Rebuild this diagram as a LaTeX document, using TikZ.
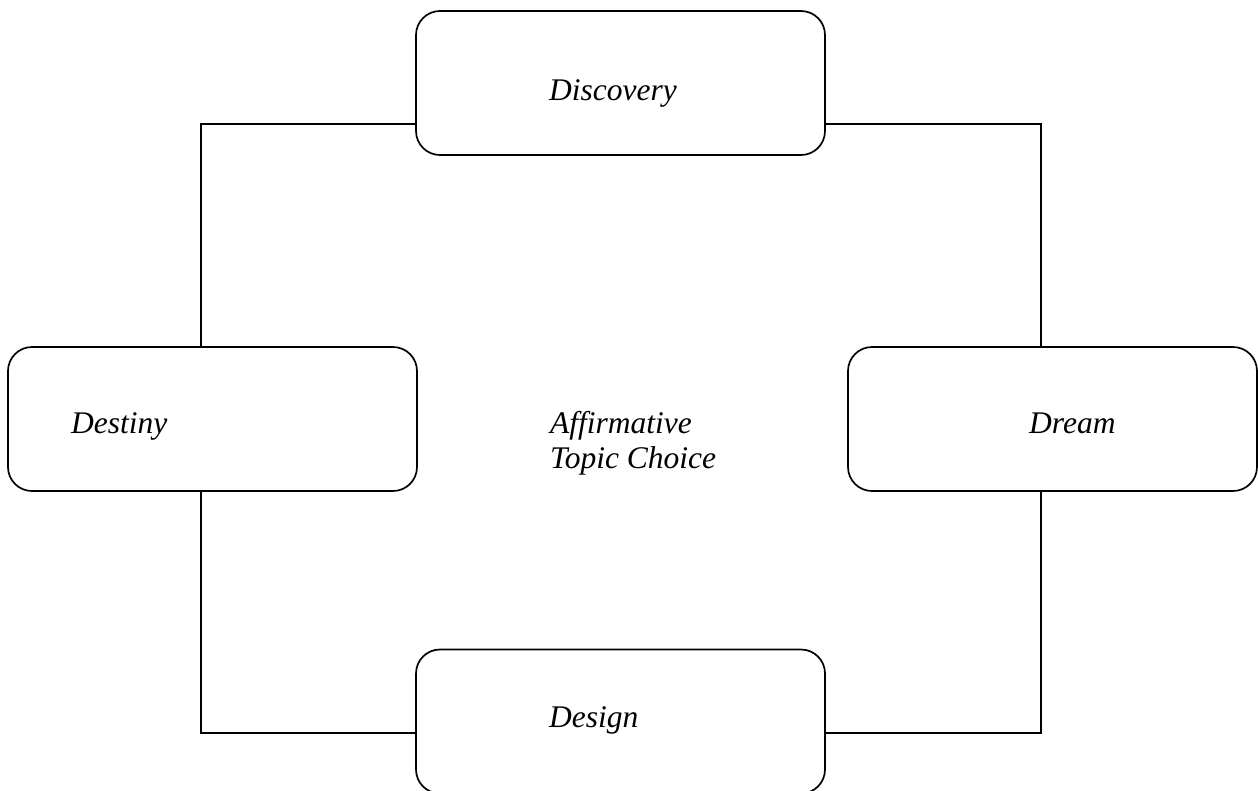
\documentclass[tikz,border=0pt]{standalone}
\usepackage{fontspec}
\setmainfont{Liberation Serif}
\begin{document}
\begin{tikzpicture}[x=1pt,y=-1pt,
  phasebox/.style={draw=black,line width=1.7pt,rectangle,rounded corners=24pt,minimum width=409pt,minimum height=144pt,inner sep=0pt},
  label/.style={inner sep=0pt,anchor=base west,font=\fontsize{31.5pt}{35pt}\selectfont\itshape},
  link/.style={draw=black,line width=1.7pt}]
\useasboundingbox (0,0) rectangle (1258,790);
\node[phasebox] (disc) at (620.5,83) {};
\node[phasebox] (dest) at (212.5,419) {};
\node[phasebox] (dream) at (1052.5,419) {};
\node[phasebox] (design) at (620.5,721.5) {};
\node[label] (tdisc) at (549,100) {Discovery};
\node[label] (tdest) at (71,433) {Destiny};
\node[label] (tdream) at (1029,433) {Dream};
\node[label] (tdesign) at (549,727) {Design};
\node[label] (taff1) at (550,433) {Affirmative};
\node[label] (taff2) at (550,468) {Topic Choice};
\draw[link] ([yshift=-41pt]disc.west) -| ([xshift=-11.5pt]dest.north);
\draw[link] ([yshift=-41pt]disc.east) -| ([xshift=-11.5pt]dream.north);
\draw[link] ([xshift=-11.5pt]dest.south) |- ([yshift=-11.5pt]design.west);
\draw[link] ([xshift=-11.5pt]dream.south) |- ([yshift=-11.5pt]design.east);
\end{tikzpicture}
\end{document}
